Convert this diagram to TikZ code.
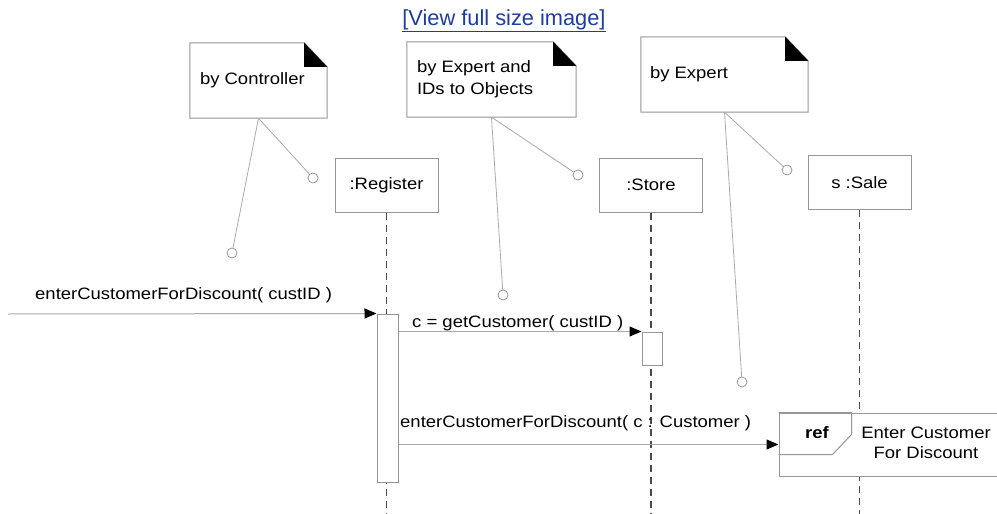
\documentclass[tikz,border=0pt]{standalone}
\usepackage{fontspec}
\setmainfont{Liberation Sans}[FakeStretch=1.12]
\newfontfamily\linkfont{Liberation Sans}
\usetikzlibrary{arrows.meta}
\definecolor{boxgray}{RGB}{150,150,150}
\definecolor{linegray}{RGB}{170,170,170}
\definecolor{lifegray}{RGB}{75,75,75}
\definecolor{linkblue}{RGB}{30,60,160}
\begin{document}
\begin{tikzpicture}[x=1pt,y=-1pt,
  every node/.style={font=\fontsize{16.5}{22}\selectfont},
  objbox/.style={draw=boxgray, line width=1pt, fill=white, minimum width=103pt, minimum height=54pt, inner sep=0pt},
  noteframe/.style={minimum height=75pt, inner sep=0pt},
  notetext/.style={anchor=west, inner sep=0pt, align=left},
  noteline/.style={draw=boxgray, line width=1pt, fill=white},
  anchorline/.style={draw=linegray, line width=0.8pt},
  anchorcirc/.style={circle, draw=boxgray, line width=0.8pt, fill=white, minimum size=10pt, inner sep=0pt},
  lifeline/.style={draw=lifegray, line width=1.1pt, dash pattern=on 7pt off 5pt},
  actbox/.style={draw=boxgray, line width=1pt, fill=white, inner sep=0pt},
  msg/.style={draw=linegray, line width=1pt, -{Triangle[length=12pt,width=10pt,color=black]}},
  msglabel/.style={anchor=west, inner sep=0pt}
]
\useasboundingbox (0,0) rectangle (997,514);

% link
\node[font=\linkfont\fontsize{21.8}{24}\selectfont, text=linkblue, inner sep=0pt] (link) at (504,21) {\underline{[View full size image]}};

% objects and lifelines
\coordinate (regend) at (386.5,514);
\coordinate (stoend) at (651,514);
\coordinate (salend) at (859.5,514);
\node[objbox] (reg) at (386.5,185) {:Register};
\node[objbox] (sto) at (651,185) {:Store};
\node[objbox] (sal) at (859.5,182.5) {s :Sale};
\draw[lifeline] (reg.south) -- (regend);
\draw[lifeline] (sto.south) -- (stoend);
\draw[lifeline] (sal.south) -- (salend);

% notes
\node[noteframe, minimum width=137pt] (n1) at (258.5,80.5) {};
\node[noteframe, minimum width=169pt] (n2) at (491.5,79.5) {};
\node[noteframe, minimum width=167pt] (n3) at (724.5,74.5) {};
\foreach \n in {n1,n2,n3}{
  \draw[noteline] (\n.south west) -- (\n.north west) -- ([xshift=-23pt]\n.north east) -- ([yshift=-24pt]\n.north east) -- (\n.south east) -- cycle;
  \fill[black] ([xshift=-23pt]\n.north east) -- ([xshift=-23pt,yshift=-24pt]\n.north east) -- ([yshift=-24pt]\n.north east) -- cycle;
}
\node[notetext] (n1t) at ([xshift=10pt]n1.west) {by Controller};
\node[notetext] (n2t) at ([xshift=10pt]n2.west) {by Expert and\\IDs to Objects};
\node[notetext] (n3t) at ([xshift=9pt]n3.west) {by Expert};

% note anchors
\node[anchorcirc] (c1a) at (232,253) {};
\node[anchorcirc] (c1b) at (313,178) {};
\node[anchorcirc] (c2a) at (503,295) {};
\node[anchorcirc] (c2b) at (578,175) {};
\node[anchorcirc] (c3a) at (742,382) {};
\node[anchorcirc] (c3b) at (787,170) {};
\draw[anchorline] (n1.south) -- (c1a);
\draw[anchorline] (n1.south) -- (c1b);
\draw[anchorline] (n2.south) -- (c2a);
\draw[anchorline] (n2.south) -- (c2b);
\draw[anchorline] (n3.south) -- (c3a);
\draw[anchorline] (n3.south) -- (c3b);

% activations
\node[actbox, minimum width=21pt, minimum height=168pt] (act1) at (387.5,398) {};
\node[actbox, minimum width=20pt, minimum height=33pt] (act2) at (652,348.5) {};

% ref fragment
\node[draw=boxgray, line width=1pt, fill=white, minimum width=221pt, minimum height=63pt, inner sep=0pt] (ref) at (889.5,444.5) {};
\draw[draw=boxgray, line width=1pt] (ref.north west) -- ([xshift=73pt]ref.north west) -- ([xshift=73pt,yshift=-22pt]ref.north west) -- ([xshift=54pt,yshift=-42pt]ref.north west) -- ([yshift=-42pt]ref.north west);
\node[font=\bfseries\fontsize{16.5}{22}\selectfont, inner sep=0pt] (reflbl) at (817,433) {ref};
\node[align=center, inner sep=0pt, font=\fontsize{16.5}{20}\selectfont] (reftxt) at (926,443) {Enter Customer\\For Discount};

% messages
\coordinate (m1start) at (8,314);
\draw[msg] (m1start) -- (act1.north west);
\node[msglabel] (l1) at (35,295) {enterCustomerForDiscount( custID )};
\draw[msg] (act1.east |- act2.north west) -- (act2.north west);
\node[msglabel] (l2) at (412,323) {c = getCustomer( custID )};
\draw[msg] (act1.east |- ref.west) -- (ref.west);
\node[msglabel] (l3) at (400,423) {enterCustomerForDiscount( c : Customer )};
\end{tikzpicture}
\end{document}
